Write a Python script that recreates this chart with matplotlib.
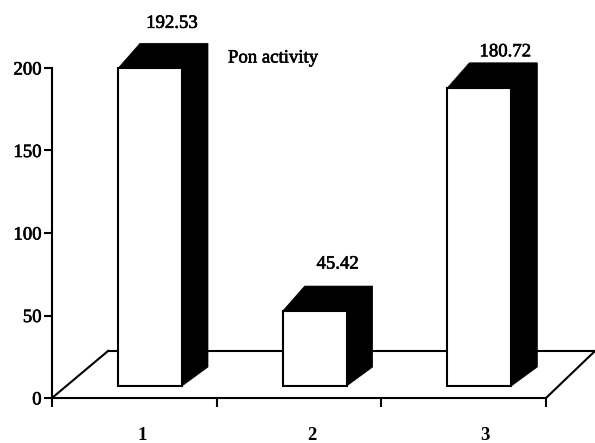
import matplotlib
matplotlib.use('Agg')
import matplotlib.pyplot as plt
import matplotlib.patheffects as pe
from matplotlib.patches import Polygon

categories = ['1', '2', '3']
pon_activity = [192.53, 45.42, 180.72]
value_labels = ['192.53', '45.42', '180.72']
y_ticks = [0, 50, 100, 150, 200]

plt.rcParams['font.family'] = ['Liberation Serif', 'DejaVu Serif']

W, H = 595, 443
fig = plt.figure(figsize=(W / 100, H / 100), dpi=100)
# axes box in pixels: x 52-546, y 68-398
ax = fig.add_axes([52 / W, (H - 398) / H, 494 / W, 330 / H])
ax.set_xlim(0, 3)
ax.set_ylim(0, 200)
ax.patch.set_visible(False)

px_x = 3 / 494    # one pixel in x units
px_y = 200 / 330  # one pixel in y units
heavy = [pe.withStroke(linewidth=0.45, foreground='black')]

for s in ['top', 'right']:
    ax.spines[s].set_visible(False)
for s in ['left', 'bottom']:
    ax.spines[s].set_linewidth(1.5)

# floor of the 3d box
floor_back = 47 * px_y
ax.plot([0, 56 * px_x], [0, floor_back], color='black', lw=1.5, clip_on=False, zorder=1)
ax.plot([56 * px_x, 3 + 49 * px_x], [floor_back, floor_back], color='black', lw=1.5, clip_on=False, zorder=1)
ax.plot([3, 3 + 49 * px_x], [0, floor_back], color='black', lw=1.5, clip_on=False, zorder=1)

base = 12 * px_y
width = 64 * px_x
offsets = [(22, -45), (23, -47), (26, -36)]

for i, val in enumerate(pon_activity):
    left = i + 66 * px_x
    right = left + width
    top = base + val
    # black top and side
    shade = Polygon([(left, top), (left + 22 * px_x, top + 25 * px_y),
                     (right + 26 * px_x, top + 25 * px_y),
                     (right + 26 * px_x, base + 19 * px_y),
                     (right, base), (right, top)],
                    closed=True, facecolor='black', edgecolor='black', lw=0.5,
                    clip_on=False, zorder=2)
    ax.add_patch(shade)
    ax.bar(left, val, width=width, bottom=base, align='edge', facecolor='white',
           edgecolor='black', linewidth=1.5, clip_on=False, zorder=3)
    dx, dy = offsets[i]
    ax.annotate(value_labels[i], (left + width / 2, top), xytext=(dx * 0.72, -dy * 0.72),
                textcoords='offset points', ha='center', va='center', fontsize=13.5,
                color='black', annotation_clip=False, path_effects=heavy)

ax.set_xticks([0, 1, 2, 3])
ax.set_xticklabels([])
ax.tick_params(axis='x', length=6.5, width=1.5, direction='out')
ax.set_yticks(y_ticks)
ax.tick_params(axis='y', length=5.5, width=1.5, direction='out', labelsize=13.5, pad=2)
for lab in ax.get_yticklabels():
    lab.set_path_effects(heavy)

label_x = [142, 312, 485]
for x, c in zip(label_x, categories):
    ax.text((x - 52) * px_x, -38 * px_y, c, ha='center', va='center', fontsize=13.5,
            fontweight='bold', clip_on=False)

ax.text((228 - 52) * px_x, 200 + 10 * px_y, 'Pon activity', ha='left', va='center',
        fontsize=13.5, clip_on=False, path_effects=heavy)

fig.savefig('out.png', dpi=100)
